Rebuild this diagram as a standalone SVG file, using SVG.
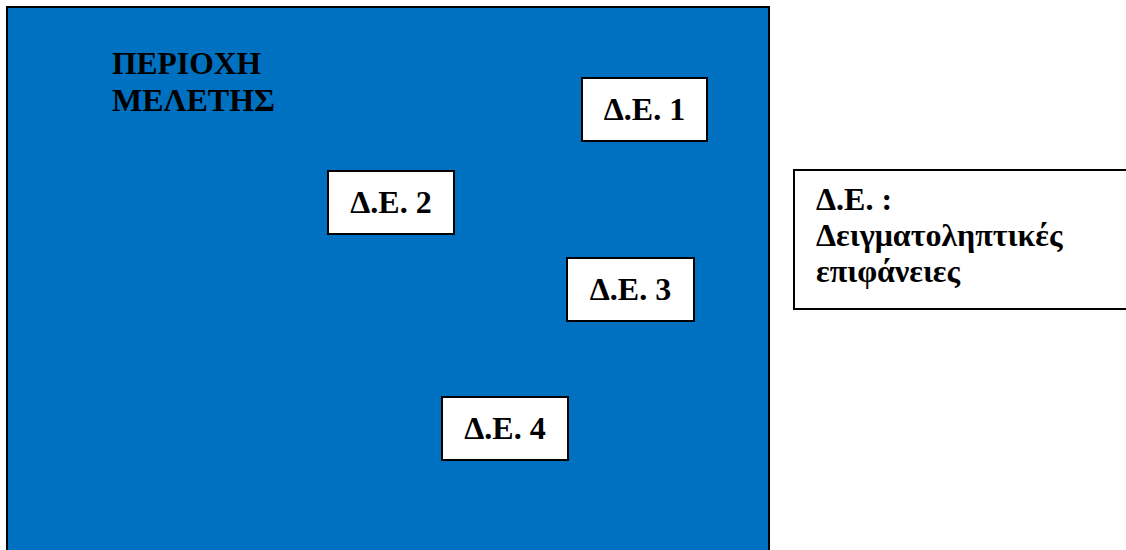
<svg xmlns="http://www.w3.org/2000/svg" width="1126" height="550" viewBox="0 0 1126 550">
  <style>
    .lbl { font-family: "Liberation Serif", "Times New Roman", serif; font-weight: bold; font-size: 32px; fill: #000; }
    .box { fill: #fff; stroke: #000; stroke-width: 2; }
  </style>
  <rect width="1126" height="550" fill="#fff"/>
  <!-- study area -->
  <g id="area">
    <rect x="7" y="7" width="762" height="560" fill="#0070C0" stroke="#000" stroke-width="2"/>
    <text class="lbl" x="112" y="74" textLength="149" lengthAdjust="spacingAndGlyphs">ΠΕΡΙΟΧΗ</text>
    <text class="lbl" x="112" y="111">ΜΕΛΕΤΗΣ</text>
  </g>
  <g id="de1">
    <rect class="box" x="582" y="78" width="125" height="63"/>
    <text class="lbl" x="644.5" y="120" text-anchor="middle">Δ.Ε. 1</text>
  </g>
  <g id="de2">
    <rect class="box" x="328" y="171" width="126" height="63"/>
    <text class="lbl" x="391" y="213" text-anchor="middle">Δ.Ε. 2</text>
  </g>
  <g id="de3">
    <rect class="box" x="567" y="258" width="127" height="63"/>
    <text class="lbl" x="630.5" y="300" text-anchor="middle">Δ.Ε. 3</text>
  </g>
  <g id="de4">
    <rect class="box" x="442" y="397" width="126" height="63"/>
    <text class="lbl" x="505" y="439" text-anchor="middle">Δ.Ε. 4</text>
  </g>
  <!-- legend -->
  <g id="legend">
    <rect class="box" x="794" y="170" width="340" height="139"/>
    <text class="lbl" x="816" y="210">Δ.Ε. :</text>
    <text class="lbl" x="816" y="246">Δειγματοληπτικές</text>
    <text class="lbl" x="816" y="282">επιφάνειες</text>
  </g>
  <g id="connectors"/>
</svg>
